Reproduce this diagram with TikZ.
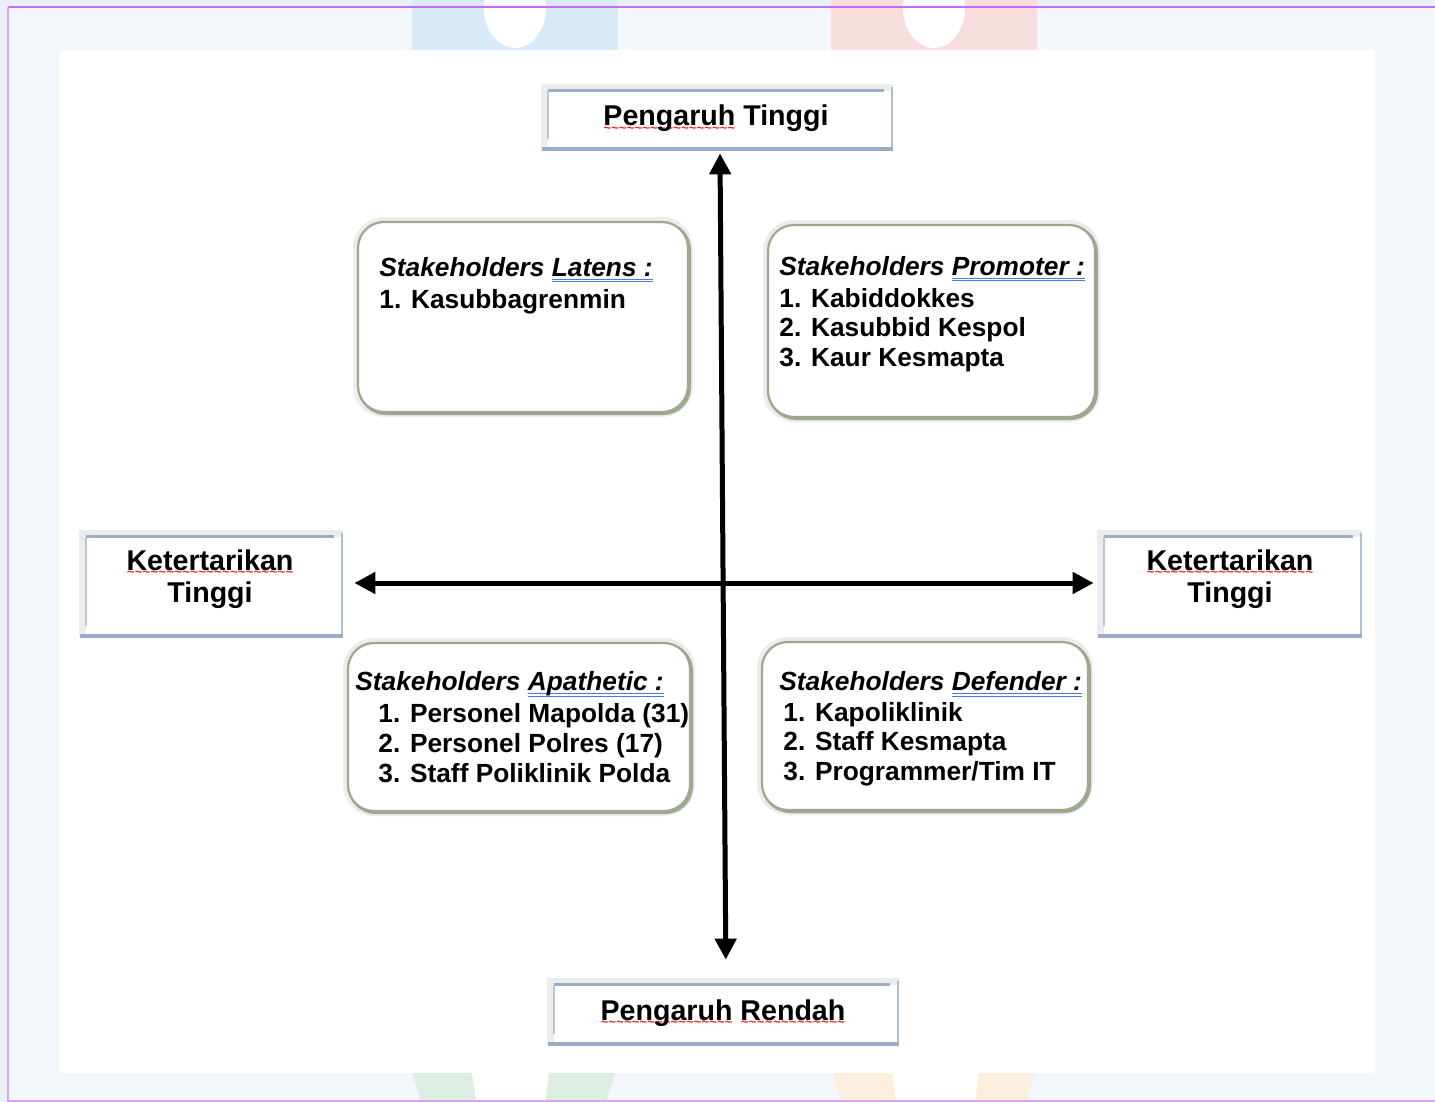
\documentclass[tikz,border=0pt]{standalone}
\usepackage{fontspec}
\setmainfont{Liberation Sans}
\usetikzlibrary{arrows.meta}
\definecolor{bgout}{HTML}{EBF0F8}
\definecolor{bgin}{HTML}{F3F6FA}
\definecolor{purp}{HTML}{C56AF3}
\definecolor{purpl}{HTML}{D8A4F4}
\definecolor{blobblue}{HTML}{D8EAF7}
\definecolor{blobpink}{HTML}{F8DDDF}
\definecolor{blobgreen}{HTML}{DCEDE1}
\definecolor{bloborange}{HTML}{FBEEDC}
\definecolor{halo}{HTML}{ECECEC}
\definecolor{frameblue}{HTML}{97AEC6}
\definecolor{qborder}{HTML}{9CA98D}
\definecolor{ulblue}{HTML}{4A7CE0}
\definecolor{wavered}{HTML}{E8282A}
\newsavebox\ulbox
\newcommand\redwave[1]{\sbox\ulbox{#1}\rlap{\lower3.4pt\hbox to \wd\ulbox{\fontsize{6.5pt}{6.5pt}\selectfont\bfseries\color{wavered}\xleaders\hbox{\char126}\hfill}}\usebox\ulbox}
\newcommand\bluedbl[1]{\sbox\ulbox{#1}\rlap{\color{ulblue}\rule[-1.8pt]{\wd\ulbox}{0.5pt}}\rlap{\color{ulblue}\rule[-3.2pt]{\wd\ulbox}{0.5pt}}\usebox\ulbox}
\newcommand\lblframe[1]{%
  \draw[frameblue, line width=1.5pt] (#1.north west) -- ([xshift=-4pt]#1.north east);
  \draw[frameblue!70, line width=0.9pt] (#1.north west) -- ([yshift=5pt]#1.south west);
  \draw[frameblue!80, line width=1pt] ([yshift=2pt]#1.north east) -- (#1.south east);
  \draw[frameblue, line width=2pt] ([xshift=-3pt]#1.south west) -- ([xshift=0.5pt]#1.south east);
}
\begin{document}
\begin{tikzpicture}[x=0.5pt,y=-0.5pt,
  lbl/.style={rectangle, fill=white, inner sep=0pt,
    preaction={draw=halo, line width=4pt, transform canvas={shift={(-1.5pt,1.5pt)}}}},
  lbltext/.style={anchor=base, inner sep=0pt, font=\bfseries\fontsize{14.3pt}{16pt}\selectfont},
  quad/.style={rectangle, rounded corners=13pt, fill=white, draw=qborder, line width=1.1pt, inner sep=0pt,
    preaction={draw=halo, line width=5pt},
    preaction={draw=qborder, line width=1.4pt, transform canvas={shift={(0.8pt,-0.8pt)}}}},
  qtext/.style={anchor=base west, inner sep=0pt, font=\bfseries\fontsize{13.15pt}{15pt}\selectfont},
  axis/.style={line width=2.5pt, {Triangle[length=10.5pt,width=10.5pt]}-{Triangle[length=10.5pt,width=10.5pt]}}
]
\useasboundingbox (0,0) rectangle (1435,1102);
% background
\fill[bgout] (0,0) rectangle (1435,1102);
\fill[bgin] (9,8) rectangle (1435,1102);
% decorative blobs
\fill[blobblue] (412,0) rectangle (618,50);
\fill[white] (515,8) ellipse [x radius=31, y radius=40];
\fill[blobpink] (831,0) rectangle (1037,50);
\fill[white] (934,8) ellipse [x radius=31, y radius=40];
\fill[blobgreen] (412,1073) -- (615,1073) -- (606,1102) -- (421,1102) -- cycle;
\fill[white] (472,1073) -- (549,1073) -- (545,1102) -- (476,1102) -- cycle;
\fill[bloborange] (833,1073) -- (1034,1073) -- (1026,1102) -- (841,1102) -- cycle;
\fill[white] (892,1073) -- (979,1073) -- (975,1102) -- (896,1102) -- cycle;
% frame lines
\draw[purp, line width=1pt] (8,7) -- (1435,7);
\draw[purpl, line width=1pt] (8,7) -- (8,1102);
\draw[purpl, line width=0.8pt] (8,1101) -- (1435,1101);
% page
\fill[white] (60,50) rectangle (1375,1073);

% label boxes
\node[lbl, minimum width=172pt, minimum height=29pt] (ptinggi) at (720,120) {};
\lblframe{ptinggi}
\node[lbltext] (ptinggi-t) at (716,125.5) {\redwave{Pengaruh} Tinggi};

\node[lbl, minimum width=172pt, minimum height=29.5pt] (prendah) at (726,1014.5) {};
\lblframe{prendah}
\node[lbltext] (prendah-t) at (723,1020) {\redwave{Pengaruh} \redwave{Rendah}};

\node[lbl, minimum width=128pt, minimum height=49.5pt] (kleft) at (214,586.5) {};
\lblframe{kleft}
\node[lbltext] (kleft-t1) at (210,570) {\redwave{Ketertarikan}};
\node[lbltext] (kleft-t2) at (210,602.5) {Tinggi};

\node[lbl, minimum width=128.5pt, minimum height=49.5pt] (kright) at (1232.5,586.5) {};
\lblframe{kright}
\node[lbltext] (kright-t1) at (1230,570) {\redwave{Ketertarikan}};
\node[lbltext] (kright-t2) at (1230,602.5) {Tinggi};

% quadrant boxes
\node[quad, minimum width=165pt, minimum height=95pt] (latens) at (523,317) {};
\node[qtext] (latens-h) at (379,276) {\itshape Stakeholders \bluedbl{Latens :}};
\node[qtext] (latens-1) at (379,308) {1. Kasubbagrenmin};

\node[quad, minimum width=163.5pt, minimum height=96pt] (promoter) at (931.5,321) {};
\node[qtext] (promoter-h) at (779,275) {\itshape Stakeholders \bluedbl{Promoter :}};
\node[qtext] (promoter-1) at (779,307) {1. Kabiddokkes};
\node[qtext] (promoter-2) at (779,336.5) {2. Kasubbid Kespol};
\node[qtext] (promoter-3) at (779,366) {3. Kaur Kesmapta};

\node[quad, minimum width=171pt, minimum height=84pt] (apathetic) at (519,727) {};
\node[qtext] (apathetic-h) at (355,690.5) {\itshape Stakeholders \bluedbl{Apathetic :}};
\node[qtext] (apathetic-1) at (378,722.5) {1. Personel Mapolda (31)};
\node[qtext] (apathetic-2) at (378,752.5) {2. Personel Polres (17)};
\node[qtext] (apathetic-3) at (378,782.5) {3. Staff Poliklinik Polda};

\node[quad, minimum width=163pt, minimum height=84pt] (defender) at (925,726) {};
\node[qtext] (defender-h) at (779,690.5) {\itshape Stakeholders \bluedbl{Defender :}};
\node[qtext] (defender-1) at (783,721) {1. Kapoliklinik};
\node[qtext] (defender-2) at (783,750.5) {2. Staff Kesmapta};
\node[qtext] (defender-3) at (783,780) {3. Programmer/Tim IT};

% axes
\draw[axis, shorten >=12.5pt] ([yshift=-2pt]ptinggi.south) -- (prendah.north);
\draw[axis, shorten <=6pt, shorten >=5pt] ([yshift=1.75pt]kleft.east) -- ([yshift=1.75pt]kright.west);
\end{tikzpicture}
\end{document}
